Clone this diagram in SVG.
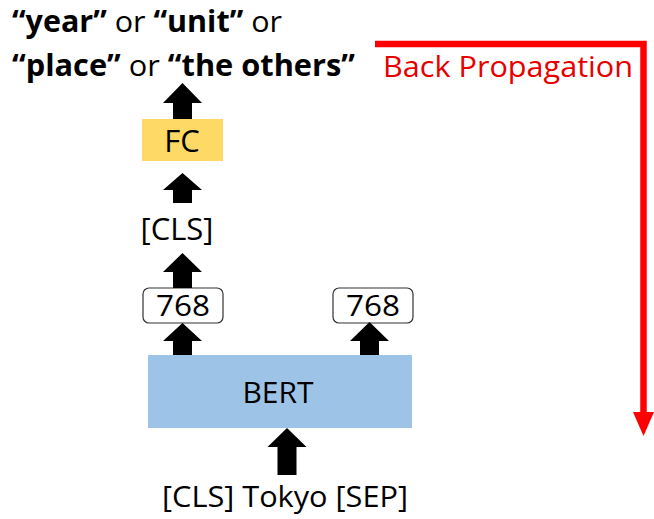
<svg xmlns="http://www.w3.org/2000/svg" width="654" height="519" viewBox="0 0 654 519">
<style>
text{font-family:"Open Sans","Noto Sans","Liberation Sans",sans-serif;fill:#000}
.b{font-weight:700}
.c{text-anchor:middle}
.arrow{fill:#000}
.dim{fill:#fff;stroke:#333;stroke-width:1.2}
.red{stroke:#f00;stroke-width:6.5;fill:none}
</style>
<rect width="654" height="519" fill="#fff"/>
<g id="output-label" font-size="30">
<text x="12" y="32" textLength="270" lengthAdjust="spacingAndGlyphs"><tspan class="b">“year”</tspan> or <tspan class="b">“unit”</tspan> or</text>
<text x="12" y="76" textLength="343" lengthAdjust="spacingAndGlyphs"><tspan class="b">“place”</tspan> or <tspan class="b">“the others”</tspan></text>
</g>
<g id="backprop">
<polyline class="red" points="375,44 643.5,44 643.5,413"/>
<polygon points="633,412 654,412 643.5,436" fill="#f00"/>
<text x="383" y="77" font-size="29" style="fill:#e60000" textLength="250" lengthAdjust="spacingAndGlyphs">Back Propagation</text>
</g>
<g id="fc">
<rect x="142" y="119" width="81" height="42" fill="#ffd966"/>
<text class="c" x="182" y="152" font-size="31">FC</text>
</g>
<g id="cls">
<text class="c" x="177" y="240" font-size="31">[CLS]</text>
</g>
<g id="dim-left">
<rect class="dim" x="143" y="288" width="80" height="35" rx="6"/>
<text class="c" x="183" y="316" font-size="30" textLength="54" lengthAdjust="spacingAndGlyphs">768</text>
</g>
<g id="dim-right">
<rect class="dim" x="333" y="288" width="80" height="35" rx="6"/>
<text class="c" x="373" y="316" font-size="30" textLength="54" lengthAdjust="spacingAndGlyphs">768</text>
</g>
<g id="bert">
<rect x="148" y="355" width="264" height="73" fill="#9dc3e6"/>
<text class="c" x="278" y="403" font-size="30">BERT</text>
</g>
<g id="input">
<text class="c" x="285" y="507" font-size="30" textLength="246" lengthAdjust="spacingAndGlyphs">[CLS] Tokyo [SEP]</text>
</g>
<g id="connectors">
<path class="arrow" d="M182.5,83 L202,103 L192,103 L192,119 L173,119 L173,103 L163,103 Z"/>
<path class="arrow" d="M182.5,173 L202,190 L192,190 L192,203 L173,203 L173,190 L163,190 Z"/>
<path class="arrow" d="M182.5,253 L202,272 L192,272 L192,288 L173,288 L173,272 L163,272 Z"/>
<path class="arrow" d="M182.5,323 L202,341 L192,341 L192,355 L173,355 L173,341 L163,341 Z"/>
<path class="arrow" d="M369.5,322 L389,341 L379,341 L379,355 L360,355 L360,341 L350,341 Z"/>
<path class="arrow" d="M287,428 L306.5,447 L296.5,447 L296.5,475 L277.5,475 L277.5,447 L267.5,447 Z"/>
</g>
</svg>
